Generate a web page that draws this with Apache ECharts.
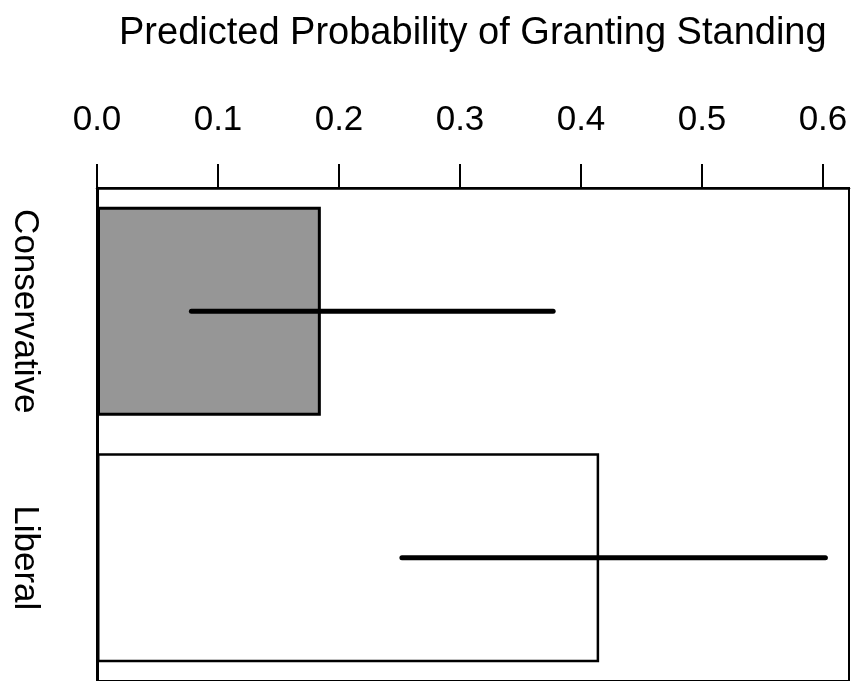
<!DOCTYPE html>
<html>
<head>
<meta charset="utf-8">
<script src="https://cdn.jsdelivr.net/npm/echarts@6/dist/echarts.min.js"></script>
<style>
html,body{margin:0;padding:0;background:#fff;}
#chart{width:853px;height:681px;}
</style>
</head>
<body>
<div id="chart"></div>
<script>
const titleText = 'Predicted Probability of Granting Standing';
const categories = ['Conservative', 'Liberal'];
const probValues = [0.185, 0.415];
const errLow = [0.078, 0.252];
const errHigh = [0.377, 0.602];
const tickValues = [0, 0.1, 0.2, 0.3, 0.4, 0.5, 0.6];
const barColors = ['#969696', '#ffffff'];

const FONT = '"Liberation Sans", Arial, Helvetica, sans-serif';
const chart = echarts.init(document.getElementById('chart'));

chart.setOption({
  animation: false,
  backgroundColor: '#fff',
  title: {
    text: titleText,
    left: 114,
    top: 10,
    textStyle: { fontFamily: FONT, fontSize: 38, fontWeight: 'normal', color: '#000' }
  },
  grid: {
    left: 97, top: 188, width: 752, height: 500,
    show: true, borderColor: '#000', borderWidth: 2, backgroundColor: 'transparent',
    containLabel: false
  },
  xAxis: {
    type: 'value',
    position: 'top',
    min: 0,
    max: 0.6215,
    interval: 0.1,
    splitLine: { show: false },
    axisLine: { show: true, lineStyle: { color: '#000', width: 2.5 } },
    axisTick: { show: true, inside: false, length: 24, customValues: tickValues, lineStyle: { color: '#000', width: 2 } },
    axisLabel: {
      customValues: tickValues,
      margin: 50,
      fontFamily: FONT, fontSize: 35, color: '#000',
      formatter: v => v.toFixed(1)
    }
  },
  yAxis: {
    type: 'category',
    data: categories,
    inverse: true,
    axisLine: { show: true, lineStyle: { color: '#000', width: 3 } },
    axisTick: { show: false },
    splitLine: { show: false },
    axisLabel: {
      interval: 0,
      hideOverlap: false,
      rotate: -90,
      margin: 55,
      fontFamily: FONT, fontSize: 35, color: '#000'
    }
  },
  series: [
    {
      type: 'bar',
      barWidth: 209,
      data: probValues.map((v, i) => ({
        value: v,
        itemStyle: { color: barColors[i], borderColor: '#000', borderWidth: i === 0 ? 3 : 2.5 }
      })),
      z: 2
    },
    {
      type: 'custom',
      z: 5,
      data: categories.map((c, i) => [i, errLow[i], errHigh[i]]),
      renderItem: function (params, api) {
        const idx = api.value(0);
        const p1 = api.coord([api.value(1), idx]);
        const p2 = api.coord([api.value(2), idx]);
        return {
          type: 'line',
          shape: { x1: p1[0], y1: p1[1], x2: p2[0], y2: p2[1] },
          style: { stroke: '#000', lineWidth: 5, lineCap: 'round' }
        };
      },
      encode: { x: [1, 2], y: 0 }
    }
  ]
});
</script>
</body>
</html>
